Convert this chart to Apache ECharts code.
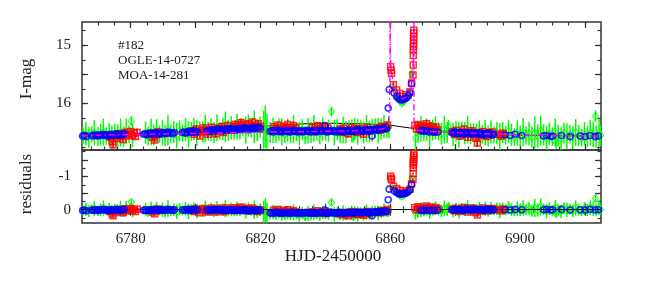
<!DOCTYPE html>
<html><head><meta charset="utf-8">
<script src="https://cdn.jsdelivr.net/npm/echarts@6/dist/echarts.min.js"></script>
<style>html,body{margin:0;padding:0;background:#fff}#c{width:664px;height:285px}</style>
</head><body><div id="c"></div>
<script>
// ---- tick labels ----
const xTickLabels = [6780, 6820, 6860, 6900];
const magTickLabels = [15, 16];
const resTickLabels = [-1, 0];

// ---- green data: [HJD-2450000, I-mag, error, residual] ----
const green = [
[6765.3,16.56,.15,.02],[6766.2,16.52,.20,-.02],[6767.1,16.58,.18,.04],[6768.0,16.53,.14,-.01],
[6768.8,16.50,.22,-.04],[6769.9,16.57,.16,.03],[6770.7,16.54,.19,.00],[6771.6,16.49,.23,-.05],
[6772.5,16.56,.15,.02],[6773.4,16.52,.18,-.02],[6774.2,16.58,.20,.05],[6775.1,16.51,.16,-.02],
[6776.0,16.55,.19,.02],[6776.9,16.50,.24,-.03],[6777.8,16.57,.18,.04],[6778.6,16.48,.22,-.04],
[6779.5,16.53,.15,.01],[6780.2,16.30,.08,-.23],[6780.6,16.55,.20,.03],[6784.6,16.50,.19,-.01],
[6785.4,16.56,.16,.05],[6786.3,16.49,.23,-.02],[6787.1,16.54,.18,.03],[6788.0,16.47,.20,-.04],
[6788.9,16.53,.15,.02],[6789.8,16.50,.22,.00],[6790.6,16.55,.18,.05],[6791.5,16.46,.26,-.04],
[6792.4,16.52,.16,.03],[6793.3,16.49,.19,.00],[6794.2,16.55,.22,.06],[6795.1,16.47,.18,-.02],
[6796.0,16.51,.15,.02],[6796.9,16.45,.20,-.03],[6797.8,16.53,.23,.05],[6798.7,16.48,.16,.00],
[6799.5,16.44,.19,-.03],[6800.4,16.51,.22,.04],[6801.3,16.46,.15,.00],[6802.2,16.49,.18,.03],
[6803.0,16.43,.24,-.03],[6803.9,16.48,.16,.02],[6804.8,16.45,.20,-.01],[6805.7,16.50,.18,.04],
[6806.6,16.42,.23,-.03],[6807.5,16.47,.15,.02],[6808.4,16.44,.19,.00],[6809.2,16.40,.26,-.03],
[6810.1,16.46,.18,.02],[6811.0,16.42,.20,-.01],[6811.9,16.47,.16,.04],[6812.8,16.40,.22,-.03],
[6813.7,16.44,.18,.01],[6814.6,16.41,.15,-.01],[6815.5,16.46,.23,.04],[6816.3,16.38,.19,-.03],
[6817.2,16.43,.16,.02],[6818.1,16.40,.28,.00],[6819.0,16.46,.19,.05],[6819.9,16.41,.18,.01],
[6821.0,16.45,.33,.06],[6821.5,16.40,.36,.01],[6822.0,16.48,.30,.09],[6823.0,16.50,.18,.11],
[6823.9,16.46,.22,.07],[6824.8,16.52,.16,.14],[6825.7,16.45,.19,.07],[6826.6,16.49,.23,.11],
[6827.5,16.53,.15,.16],[6828.4,16.46,.20,.09],[6829.3,16.50,.18,.13],[6830.2,16.44,.24,.08],
[6831.1,16.49,.16,.13],[6832.0,16.52,.20,.16],[6832.9,16.45,.18,.09],[6833.8,16.55,.15,.19],
[6834.7,16.47,.22,.11],[6835.6,16.50,.18,.14],[6836.5,16.43,.23,.07],[6837.4,16.48,.16,.12],
[6838.3,16.51,.19,.15],[6839.2,16.44,.20,.08],[6840.1,16.49,.15,.13],[6841.0,16.47,.19,.11],
[6841.9,16.14,.08,-.22],[6842.8,16.50,.22,.14],[6843.7,16.45,.18,.09],[6844.6,16.52,.16,.16],
[6845.5,16.46,.23,.10],[6846.4,16.49,.19,.13],[6847.3,16.44,.15,.08],[6848.2,16.47,.20,.11],
[6848.7,16.57,.10,.21],[6849.1,16.44,.18,.08],[6850.0,16.49,.22,.13],[6850.9,16.45,.16,.09],
[6851.8,16.50,.19,.14],[6852.7,16.43,.23,.07],[6853.6,16.48,.18,.12],[6854.5,16.46,.20,.09],
[6855.4,16.42,.16,.05],[6856.3,16.47,.22,.10],[6857.2,16.44,.18,.07],[6858.1,16.40,.20,.02],
[6859.0,16.45,.15,.07],[6859.6,16.41,.18,.03],[6860.9,15.71,.05,-.68],[6862.0,15.86,.06,-.53],
[6863.0,15.96,.05,-.44],[6863.6,15.99,.06,-.41],[6864.3,15.97,.05,-.44],[6865.2,15.90,.06,-.52],
[6866.0,15.84,.05,-.58],[6866.7,15.48,.05,-.95],[6867.8,16.60,.20,.10],[6868.6,16.50,.18,.06],
[6869.5,16.44,.22,.00],[6870.4,16.49,.16,.04],[6871.3,16.45,.19,-.01],[6872.2,16.51,.23,.05],
[6873.1,16.46,.18,.00],[6874.0,16.42,.20,-.05],[6874.9,16.48,.16,.01],[6875.8,16.52,.19,.04],
[6876.7,16.45,.24,-.04],[6877.6,16.50,.18,.01],[6878.0,16.40,.12,-.09],[6879.4,16.53,.20,.03],
[6880.3,16.48,.18,-.02],[6881.2,16.54,.22,.04],[6882.1,16.47,.16,-.04],[6883.0,16.51,.19,.00],
[6883.9,16.45,.23,-.06],[6884.8,16.52,.18,.01],[6885.7,16.49,.15,-.03],[6886.6,16.55,.20,.03],
[6887.5,16.48,.19,-.04],[6888.4,16.53,.16,.01],[6889.3,16.50,.22,-.03],[6890.2,16.56,.18,.03],
[6891.1,16.49,.20,-.04],[6892.0,16.54,.15,.01],[6892.9,16.51,.19,-.03],[6893.8,16.57,.23,.03],
[6894.7,16.50,.18,-.04],[6895.6,16.55,.16,.01],[6896.5,16.48,.20,-.06],[6897.4,16.54,.19,.00],
[6898.3,16.58,.15,.04],[6899.2,16.51,.22,-.03],[6900.1,16.56,.18,.01],[6901.0,16.49,.24,-.06],
[6901.9,16.55,.16,.00],[6902.8,16.52,.20,-.03],[6903.7,16.58,.18,.03],[6904.6,16.50,.28,-.05],
[6905.5,16.56,.20,.01],[6906.4,16.47,.26,-.08],[6907.3,16.54,.18,-.01],[6908.2,16.60,.22,.05],
[6909.1,16.52,.19,-.03],[6910.0,16.57,.16,.02],[6910.9,16.49,.23,-.06],[6911.2,16.68,.10,.12],
[6911.8,16.55,.18,.00],[6912.7,16.60,.20,.05],[6913.6,16.51,.18,-.04],[6914.5,16.56,.22,.01],
[6915.4,16.53,.16,-.02],[6916.3,16.58,.19,.03],[6917.2,16.50,.23,-.05],[6918.1,16.55,.18,.00],
[6919.0,16.59,.15,.04],[6919.9,16.52,.20,-.03],[6920.8,16.57,.18,.01],[6921.7,16.50,.22,-.06],
[6922.6,16.53,.22,-.03],[6923.3,16.22,.10,-.34],[6923.5,16.57,.19,.01],[6924.4,16.50,.23,-.06],
[6924.9,16.55,.18,-.01]
];

// ---- red data: [HJD-2450000, I-mag, error, residual] ----
const red = [
[6773.8,16.58,.06,.05],[6774.3,16.66,.07,.13],[6774.6,16.71,.06,.18],[6775.2,16.55,.05,.02],
[6775.8,16.60,.06,.07],[6776.4,16.52,.07,-.01],[6777.0,16.57,.05,.04],[6777.6,16.62,.06,.09],
[6778.2,16.50,.07,-.03],[6778.8,16.56,.06,.03],[6779.4,16.53,.05,.00],[6780.0,16.48,.06,-.04],
[6780.5,16.55,.07,.03],[6781.0,16.51,.05,-.01],[6781.5,16.57,.06,.05],[6782.0,16.50,.07,-.02],
[6786.2,16.51,.06,.00],[6786.8,16.58,.07,.07],[6787.4,16.63,.05,.12],[6788.0,16.54,.06,.03],
[6788.6,16.49,.07,-.02],
[6799.0,16.47,.06,-.01],[6799.6,16.53,.05,.05],[6800.2,16.44,.07,-.03],[6800.8,16.50,.06,.03],
[6801.4,16.56,.05,.09],[6802.0,16.46,.06,.00],[6802.6,16.42,.07,-.04],[6803.2,16.49,.05,.03],
[6803.8,16.53,.06,.07],[6804.4,16.45,.07,-.01],[6805.0,16.41,.05,-.05],[6805.6,16.48,.06,.02],
[6806.2,16.52,.07,.07],[6806.8,16.43,.05,-.02],[6807.4,16.47,.06,.02],[6808.0,16.40,.07,-.05],
[6808.6,16.50,.05,.06],[6809.2,16.44,.06,.00],[6809.8,16.38,.07,-.06],[6810.4,16.46,.05,.02],
[6811.6,16.40,.06,-.03],[6812.2,16.36,.07,-.06],[6812.8,16.42,.05,.00],[6813.4,16.37,.06,-.04],
[6814.0,16.33,.07,-.08],[6814.6,16.40,.05,.00],[6815.2,16.36,.06,-.04],[6815.8,16.42,.07,.03],
[6816.4,16.35,.05,-.03],[6817.0,16.39,.06,.01],[6817.6,16.32,.07,-.05],[6818.2,16.38,.05,.02],
[6818.8,16.41,.06,.05],[6819.4,16.35,.07,.00],[6820.0,16.39,.05,.01],
[6824.2,16.40,.06,.01],[6824.8,16.44,.07,.05],[6825.4,16.37,.05,-.01],[6826.0,16.42,.06,.05],
[6826.6,16.46,.07,.09],[6827.2,16.39,.05,.02],[6827.8,16.43,.06,.07],[6828.4,16.36,.07,.00],
[6829.0,16.41,.05,.05],[6829.6,16.45,.06,.09],[6830.2,16.38,.07,.02],[6830.8,16.42,.05,.06],
[6836.0,16.41,.06,.06],[6836.8,16.45,.07,.10],[6837.6,16.38,.05,.03],[6838.4,16.43,.06,.08],
[6839.2,16.40,.07,.06],[6840.0,16.46,.05,.11],[6840.8,16.42,.06,.07],
[6844.6,16.44,.06,.10],[6845.2,16.49,.07,.15],[6845.8,16.42,.05,.08],[6846.4,16.47,.06,.13],
[6847.0,16.52,.07,.18],[6847.6,16.45,.05,.11],[6848.2,16.41,.06,.06],[6848.8,16.48,.07,.13],
[6849.4,16.44,.05,.09],[6850.0,16.50,.06,.15],[6850.6,16.43,.07,.08],[6851.2,16.47,.05,.12],
[6851.8,16.53,.06,.17],[6852.4,16.45,.07,.09],[6853.0,16.41,.05,.05],[6853.6,16.48,.06,.12],
[6856.2,16.42,.06,.06],[6856.8,16.46,.07,.09],[6857.4,16.39,.05,.02],[6858.0,16.44,.06,.07],
[6858.6,16.40,.07,.03],[6859.2,16.37,.05,-.01],
[6860.15,15.37,.03,-1.01],[6860.3,15.43,.03,-.95],[6860.45,15.48,.03,-.90],[6861.0,15.68,.03,-.71],
[6862.0,15.77,.03,-.63],[6863.0,15.83,.03,-.58],[6864.0,15.88,.03,-.53],[6865.0,15.85,.03,-.57],
[6866.1,15.80,.03,-.62],[6866.6,15.65,.03,-.78],[6867.05,15.51,.03,-.92],[6867.1,15.34,.03,-1.09],
[6867.13,15.17,.03,-1.26],[6867.16,15.08,.03,-1.35],[6867.18,15.02,.03,-1.41],[6867.2,14.97,.03,-1.46],
[6867.22,14.91,.03,-1.52],[6867.24,14.85,.03,-1.58],[6867.26,14.79,.03,-1.64],[6867.28,14.74,.03,-1.69],
[6867.6,16.38,.06,-.06],[6868.1,16.44,.07,.00],[6868.6,16.36,.05,-.09],[6869.1,16.41,.06,-.04],
[6869.6,16.46,.07,.01],[6870.1,16.38,.05,-.07],[6870.6,16.43,.06,-.03],[6871.1,16.35,.07,-.11],
[6871.6,16.40,.05,-.06],[6872.1,16.45,.06,-.02],[6872.6,16.39,.07,-.08],[6873.1,16.43,.05,-.04],
[6873.6,16.48,.06,.01],[6874.1,16.41,.07,-.07],[6874.6,16.45,.05,-.03],
[6879.2,16.48,.06,-.02],[6879.8,16.53,.07,.03],[6880.4,16.46,.05,-.04],[6881.0,16.51,.06,.01],
[6881.6,16.56,.07,.05],[6882.2,16.49,.05,-.02],[6882.8,16.44,.06,-.07],[6883.4,16.52,.07,.01],
[6884.0,16.58,.05,.07],[6884.6,16.50,.06,-.01],[6885.2,16.47,.07,-.05],[6885.8,16.54,.05,.03],
[6886.4,16.60,.06,.08],[6886.9,16.68,.06,.16],[6887.4,16.51,.07,-.01],[6888.0,16.55,.05,.03],
[6888.6,16.48,.06,-.05],[6889.2,16.53,.07,.00],[6889.8,16.57,.05,.04],[6890.4,16.50,.06,-.03],
[6891.0,16.54,.07,.01],[6891.6,16.49,.05,-.04],
[6893.6,16.53,.06,.00],[6894.2,16.56,.07,.03],[6894.8,16.51,.05,-.02]
];

// ---- blue data: [HJD-2450000, I-mag, residual] ----
const blue = [
[6765.2,16.56,.02],[6765.7,16.55,.01],[6766.3,16.57,.03],
[6768.0,16.55,.01],[6768.5,16.56,.02],[6769.0,16.54,.00],[6769.5,16.55,.01],[6770.0,16.56,.02],
[6770.5,16.54,.00],[6771.0,16.55,.01],[6771.5,16.53,-.01],[6772.0,16.55,.01],[6772.5,16.54,.00],
[6773.0,16.56,.03],[6773.5,16.54,.01],[6774.0,16.53,.00],[6774.5,16.55,.02],[6775.0,16.54,.01],
[6775.5,16.52,-.01],[6776.0,16.54,.01],[6776.5,16.53,.00],[6777.0,16.55,.02],[6777.5,16.53,.00],
[6778.0,16.52,-.01],
[6784.0,16.53,.02],[6784.5,16.52,.01],[6785.0,16.54,.03],[6785.5,16.52,.01],[6786.0,16.51,.00],
[6786.5,16.53,.02],[6787.0,16.52,.01],[6787.5,16.50,-.01],[6788.0,16.52,.01],[6788.5,16.51,.00],
[6789.0,16.53,.02],[6789.5,16.51,.01],[6790.0,16.50,.00],[6790.5,16.52,.02],[6791.0,16.51,.01],
[6791.5,16.49,-.01],[6792.0,16.51,.01],[6792.5,16.50,.00],[6793.0,16.52,.02],[6793.5,16.50,.00],
[6796.0,16.50,.01],[6796.5,16.49,.00],[6797.0,16.51,.02],[6797.5,16.49,.00],[6798.0,16.48,-.01],
[6798.5,16.50,.02],[6799.0,16.49,.01],[6799.5,16.47,-.01],[6800.0,16.49,.01],[6800.5,16.48,.00],
[6803.5,16.47,.01],[6804.0,16.46,.00],[6804.5,16.48,.02],[6805.0,16.46,.00],[6805.5,16.45,-.01],
[6806.0,16.47,.01],[6806.5,16.46,.01],[6807.0,16.44,-.01],[6807.5,16.46,.01],[6808.0,16.45,.00],
[6808.5,16.47,.02],[6809.0,16.45,.01],[6809.5,16.44,.00],[6810.0,16.46,.02],[6810.5,16.44,.01],
[6811.0,16.43,.00],[6811.5,16.45,.02],[6812.0,16.44,.01],[6812.5,16.46,.03],[6813.0,16.44,.01],
[6813.5,16.43,.01],[6814.0,16.45,.03],[6814.5,16.43,.01],[6815.0,16.42,.00],[6815.5,16.44,.02],
[6816.0,16.43,.02],[6816.5,16.45,.04],[6817.0,16.43,.02],[6817.5,16.42,.01],[6818.0,16.44,.03],
[6818.5,16.42,.01],[6819.0,16.43,.02],[6819.5,16.41,.00],[6820.0,16.43,.03],
[6823.0,16.48,.10],[6823.5,16.47,.09],[6824.0,16.49,.11],[6824.5,16.47,.09],[6825.0,16.46,.08],
[6825.5,16.48,.10],[6826.0,16.47,.09],[6826.5,16.49,.11],[6827.0,16.48,.10],[6827.5,16.46,.08],
[6828.0,16.48,.10],[6828.5,16.47,.09],[6829.0,16.49,.11],[6829.5,16.48,.10],[6830.0,16.46,.08],
[6830.5,16.48,.10],[6831.0,16.47,.09],[6831.5,16.49,.11],[6832.0,16.48,.10],[6832.5,16.47,.09],
[6833.0,16.49,.11],[6833.5,16.48,.10],[6834.0,16.46,.08],[6834.5,16.48,.10],[6835.0,16.47,.09],
[6835.5,16.49,.11],[6836.0,16.48,.10],[6836.5,16.47,.09],[6837.0,16.49,.11],[6837.5,16.48,.10],
[6838.0,16.46,.08],[6838.5,16.48,.10],[6839.0,16.47,.09],[6839.9,16.38,.01],[6840.0,16.48,.10],
[6840.5,16.49,.11],[6841.0,16.47,.09],[6841.5,16.48,.10],[6842.0,16.46,.08],[6842.5,16.48,.10],
[6843.0,16.47,.09],[6843.5,16.49,.11],[6844.0,16.48,.10],[6844.5,16.46,.08],[6845.0,16.48,.10],
[6845.5,16.47,.09],[6846.0,16.49,.11],[6846.5,16.47,.09],[6847.0,16.46,.08],[6847.5,16.48,.10],
[6848.0,16.47,.09],[6848.5,16.46,.08],[6849.0,16.48,.10],[6849.5,16.46,.08],[6850.0,16.45,.07],
[6850.5,16.47,.09],[6851.0,16.46,.08],[6851.5,16.48,.10],[6852.0,16.46,.08],[6852.5,16.45,.07],
[6853.0,16.47,.09],[6853.5,16.46,.08],[6854.0,16.45,.07],[6854.4,16.56,.18],[6854.5,16.46,.08],
[6855.0,16.45,.07],[6855.5,16.44,.06],[6856.0,16.46,.08],[6856.5,16.44,.06],[6857.0,16.45,.07],
[6857.5,16.43,.05],[6858.0,16.44,.06],[6858.5,16.42,.04],[6859.0,16.43,.05],
[6859.4,16.08,-.30],[6859.7,15.76,-.62],[6861.2,15.82,-.57],[6862.0,15.88,-.52],[6862.5,15.91,-.49],
[6863.0,15.93,-.47],[6863.5,15.94,-.47],[6864.0,15.93,-.48],[6864.5,15.92,-.49],[6865.1,15.90,-.51],
[6865.6,15.87,-.55],[6866.1,15.82,-.60],[6866.6,15.66,-.76],
[6869.5,16.47,.02],[6870.0,16.46,.01],[6870.5,16.48,.03],[6871.3,16.47,.01],[6872.0,16.49,.03],
[6872.9,16.48,.01],[6873.6,16.50,.03],[6874.7,16.49,.01],
[6879.0,16.50,.00],[6879.5,16.51,.01],[6880.0,16.49,-.01],[6880.5,16.51,.00],[6881.0,16.52,.01],
[6881.5,16.50,-.01],[6882.0,16.51,.00],[6882.5,16.53,.02],[6883.0,16.51,.00],[6883.5,16.50,-.02],
[6884.0,16.52,.00],[6884.5,16.51,-.01],[6885.0,16.53,.01],[6885.5,16.51,-.01],[6886.0,16.52,.00],
[6886.5,16.50,-.02],[6887.0,16.52,.00],[6887.5,16.53,.01],[6888.0,16.51,-.01],[6888.5,16.52,.00],
[6889.0,16.54,.02],[6889.5,16.52,-.01],[6890.0,16.51,-.02],[6890.5,16.53,.00],[6891.0,16.52,-.01],
[6891.5,16.54,.01],[6892.0,16.53,.00],
[6895.4,16.54,.00],[6897.0,16.55,.01],[6898.5,16.53,-.01],[6900.6,16.55,.00],
[6907.3,16.56,.00],[6908.2,16.55,-.01],[6909.5,16.57,.01],[6910.1,16.56,.00],[6912.8,16.55,-.01],
[6915.5,16.57,.01],[6918.6,16.56,.00],[6920.1,16.57,.01],[6921.6,16.55,-.01],[6923.2,16.57,.01],
[6924.2,16.56,.00]
];

// ---- binary-lens model (magenta) ----
const binDay = [6765,6775,6785,6795,6805,6815,6825,6835,6845,6852,6856,6858,6859,6859.5,6859.8,6859.95,
  6860.0,6860.05,6860.2,6860.5,6861,6862,6863,6864,6865,6866,6866.6,6867.0,6867.2,6867.3,6867.35,
  6867.45,6867.6,6868,6870,6875,6880,6890,6900,6910,6925];
const binMag = [16.55,16.54,16.53,16.52,16.51,16.50,16.49,16.485,16.475,16.46,16.45,16.43,16.40,16.32,16.10,15.50,
  13.0,15.10,15.32,15.50,15.65,15.82,15.90,15.92,15.89,15.80,15.66,15.45,15.10,13.0,16.30,
  16.42,16.45,16.46,16.47,16.49,16.50,16.52,16.54,16.55,16.56];

// ---- single-lens model (black) ----
const slDay = [6765,6775,6785,6795,6805,6812,6818,6824,6830,6836,6842,6848,6854,6860,6866,6872,6878,6885,6895,6910,6925];
const slMag = [16.55,16.53,16.51,16.49,16.46,16.44,16.41,16.38,16.36,16.345,16.34,16.345,16.355,16.375,16.42,16.45,16.48,16.51,16.54,16.555,16.56];

// ---------------------------------------------------------------
const FONT = '"Liberation Serif", "Times New Roman", serif';
const XMIN = 6765, XMAX = 6925;
function steps(a, b, s) { const o = []; for (let v = a; v <= b + 1e-9; v += s) o.push(+v.toFixed(4)); return o; }
const AX = '#333';

function xAxis(grid, pos, ticks, len, labels) {
  return {
    type: 'value', gridIndex: grid, min: XMIN, max: XMAX, position: pos,
    axisLine: { show: false }, splitLine: { show: false },
    axisTick: { show: true, inside: true, length: len, customValues: ticks, lineStyle: { color: AX, width: 1.2 } },
    axisLabel: labels ? { show: true, customValues: labels, margin: 9, fontFamily: FONT, fontSize: 15, color: '#222', formatter: v => String(v) } : { show: false }
  };
}
function yAxis(grid, pos, min, max, ticks, len, labels) {
  return {
    type: 'value', gridIndex: grid, min: min, max: max, inverse: true, position: pos,
    axisLine: { show: false }, splitLine: { show: false },
    axisTick: { show: true, inside: true, length: len, customValues: ticks, lineStyle: { color: AX, width: 1.2 } },
    axisLabel: labels ? { show: true, customValues: labels, margin: 11, fontFamily: FONT, fontSize: 15, color: '#222', formatter: v => String(v) } : { show: false }
  };
}
const long20 = steps(6780, 6920, 20);
const short4 = steps(6768, 6924, 4);
const short5 = steps(6770, 6920, 5);
const magLong = [15, 15.5, 16, 16.5];
const magShort = steps(14.75, 16.75, 0.25);
const resLong = [-1.5, -1, -0.5, 0];
const resShort = steps(-1.75, 0.25, 0.25);

const xAxes = [
  xAxis(0, 'bottom', short4, 3.5), xAxis(0, 'bottom', long20, 6),
  xAxis(0, 'top', short5, 3.5), xAxis(0, 'top', long20, 6),
  xAxis(1, 'bottom', short4, 3.5, xTickLabels), xAxis(1, 'bottom', long20, 6),
  xAxis(1, 'top', short4, 3.5), xAxis(1, 'top', long20, 6)
];
const yAxes = [
  yAxis(0, 'left', 14.6, 16.8, magShort, 3.5), yAxis(0, 'left', 14.6, 16.8, magLong, 6, magTickLabels),
  yAxis(0, 'right', 14.6, 16.8, magShort, 3.5), yAxis(0, 'right', 14.6, 16.8, magLong, 6),
  yAxis(1, 'left', -1.8, 0.4, resShort, 3.5), yAxis(1, 'left', -1.8, 0.4, resLong, 6, resTickLabels),
  yAxis(1, 'right', -1.8, 0.4, resShort, 3.5), yAxis(1, 'right', -1.8, 0.4, resLong, 6)
];

function errBars(rows, vi, ei, axis, color, lw, z) {
  return {
    type: 'custom', xAxisIndex: axis, yAxisIndex: axis, z: z, silent: true, clip: true, animation: false,
    data: rows.map(r => [r[0], r[vi], r[ei]]),
    encode: { x: 0, y: 1 },
    renderItem: function (params, api) {
      const x = api.value(0), y = api.value(1), e = api.value(2);
      const a = api.coord([x, y - e]), b = api.coord([x, y + e]);
      return { type: 'line', shape: { x1: a[0], y1: a[1], x2: b[0], y2: b[1] }, style: { stroke: color, lineWidth: lw } };
    }
  };
}
function pts(rows, vi, axis, symbol, size, color, bw, z) {
  return {
    type: 'scatter', xAxisIndex: axis, yAxisIndex: axis, z: z, silent: true, animation: false,
    symbol: symbol, symbolSize: size,
    itemStyle: { color: 'rgba(0,0,0,0)', borderColor: color, borderWidth: bw },
    data: rows.map(r => [r[0], r[vi]])
  };
}

const series = [
  // top panel
  { type: 'line', xAxisIndex: 0, yAxisIndex: 0, z: 1, silent: true, animation: false, smooth: 0.3, symbol: 'none',
    lineStyle: { color: '#000', width: 1 }, data: slDay.map((d, i) => [d, slMag[i]]) },
  errBars(green, 1, 2, 0, '#00ff00', 1.5, 2),
  pts(green, 1, 0, 'diamond', [6, 8], '#00ff00', 1.1, 3),
  errBars(red, 1, 2, 0, '#ff0000', 1.5, 4),
  pts(red, 1, 0, 'rect', 6, '#ff0000', 1.5, 5),
  pts(blue, 1, 0, 'circle', 6, '#0000ff', 1.6, 6),
  { type: 'line', xAxisIndex: 0, yAxisIndex: 0, z: 7, silent: true, animation: false, symbol: 'none', clip: true,
    lineStyle: { color: '#ff00ff', width: 1.4, type: [6, 3, 1.5, 3] }, data: binDay.map((d, i) => [d, binMag[i]]) },
  // residual panel
  { type: 'line', xAxisIndex: 4, yAxisIndex: 4, z: 1, silent: true, animation: false, symbol: 'none', data: [],
    markLine: { silent: true, symbol: 'none', animation: false, label: { show: false },
      lineStyle: { color: '#000', width: 1, type: 'solid' }, data: [{ yAxis: 0 }] } },
  errBars(green, 3, 2, 4, '#00ff00', 1.5, 2),
  pts(green, 3, 4, 'diamond', [6, 8], '#00ff00', 1.1, 3),
  errBars(red, 3, 2, 4, '#ff0000', 1.5, 4),
  pts(red, 3, 4, 'rect', 6, '#ff0000', 1.5, 5),
  pts(blue, 2, 4, 'circle', 6, '#0000ff', 1.6, 6)
];

const txt = (x, y, text, size) => ({
  type: 'text', x: x, y: y, silent: true,
  style: { text: text, font: size + 'px ' + FONT, fill: '#222', align: 'left', verticalAlign: 'middle' }
});

const chart = echarts.init(document.getElementById('c'), null, { renderer: 'canvas' });
chart.setOption({
  animation: false,
  backgroundColor: '#fff',
  grid: [
    { left: 82, top: 22, width: 519, height: 128, show: true, borderColor: AX, borderWidth: 1.5, backgroundColor: 'transparent', containLabel: false, outerBoundsMode: 'none' },
    { left: 82, top: 150, width: 519, height: 73, show: true, borderColor: AX, borderWidth: 1.5, backgroundColor: 'transparent', containLabel: false, outerBoundsMode: 'none' }
  ],
  xAxis: xAxes,
  yAxis: yAxes,
  series: series,
  graphic: [
    txt(118, 46, '#182', 13),
    txt(118, 61, 'OGLE-14-0727', 13),
    txt(118, 76, 'MOA-14-281', 13),
    { type: 'text', x: 27, y: 79, rotation: Math.PI / 2, silent: true,
      style: { text: 'I-mag', font: '17px ' + FONT, fill: '#222', align: 'center', verticalAlign: 'middle' } },
    { type: 'text', x: 27, y: 184, rotation: Math.PI / 2, silent: true,
      style: { text: 'residuals', font: '17px ' + FONT, fill: '#222', align: 'center', verticalAlign: 'middle' } },
    { type: 'text', x: 333, y: 257, silent: true,
      style: { text: 'HJD-2450000', font: '17px ' + FONT, fill: '#222', align: 'center', verticalAlign: 'middle' } }
  ]
});
</script>
</body></html>
